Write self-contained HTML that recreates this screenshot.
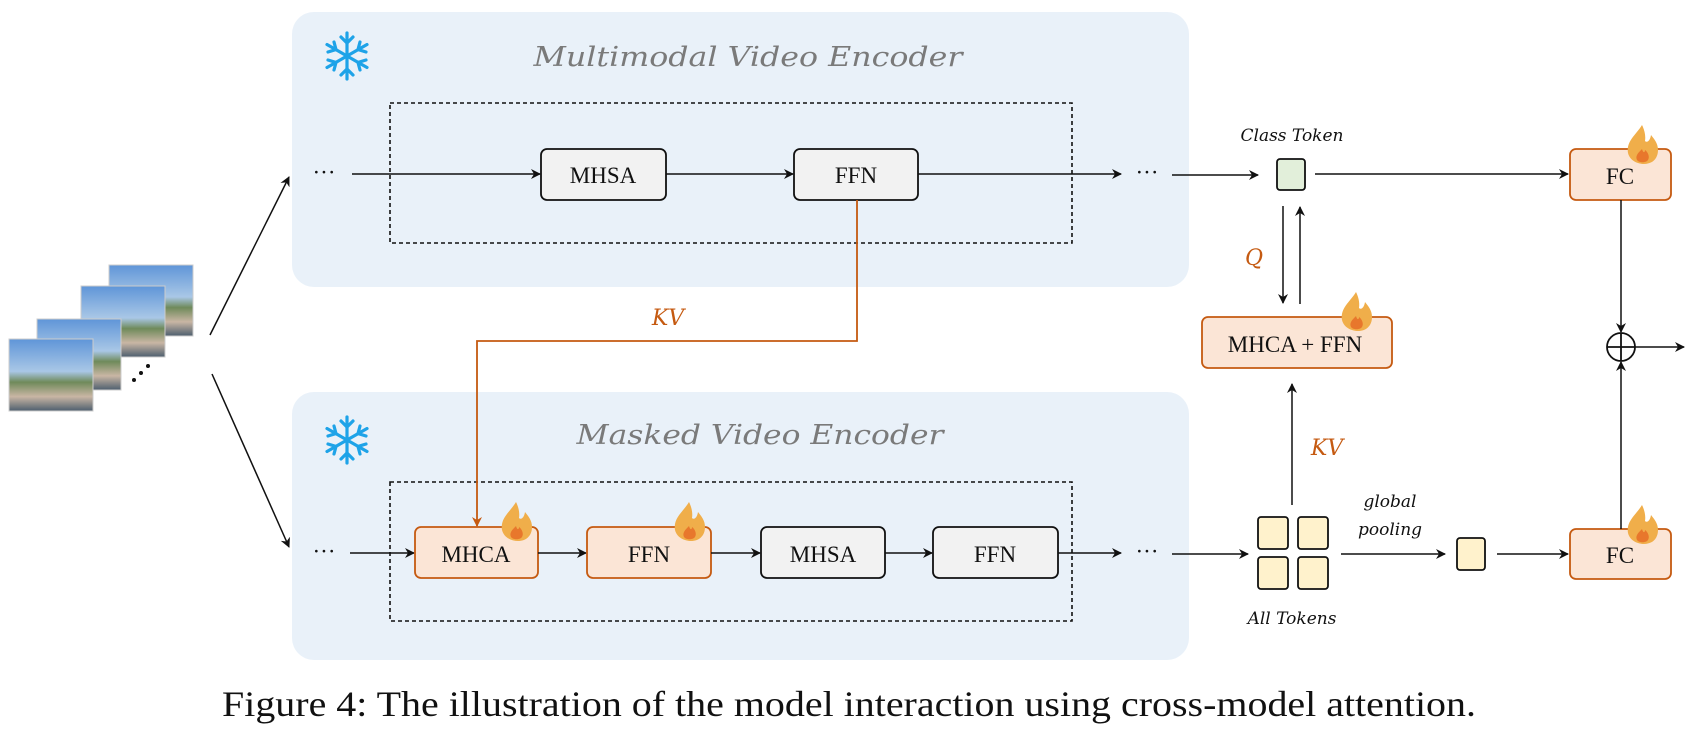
<!DOCTYPE html>
<html><head><meta charset="utf-8"><style>
html,body{margin:0;padding:0;background:#fff;}
svg{display:block;}
.b{font-family:"Liberation Serif",serif;font-size:23px;fill:#111;text-anchor:middle;}
.t{font-family:"DejaVu Serif",serif;font-style:italic;font-size:27px;fill:#7a7a7a;text-anchor:middle;}
.s{font-family:"DejaVu Serif",serif;font-style:italic;font-size:17px;fill:#111;text-anchor:middle;}
.o{font-family:"DejaVu Serif",serif;font-style:italic;font-size:22px;fill:#c55a11;text-anchor:middle;}
</style></head><body>
<svg width="1689" height="744" viewBox="0 0 1689 744" xmlns="http://www.w3.org/2000/svg">
<defs>
<marker id="a" markerWidth="10" markerHeight="10" refX="9" refY="5" orient="auto" markerUnits="userSpaceOnUse"><path d="M0,0 L10,5 L0,10 L3,5 z" fill="#111"/></marker>
<marker id="ao" markerWidth="10" markerHeight="10" refX="9" refY="5" orient="auto" markerUnits="userSpaceOnUse"><path d="M0,0 L10,5 L0,10 L3,5 z" fill="#c55a11"/></marker>
<g id="fl"><path d="M0,-22 C-6,-12 -16,-6 -14,6 C-12,14 -4,17 2,17 C10,17 16,12 16,3 C16,-4 12,-8 9,-12 C8,-6 5,-4 3,-6 C4,-12 2,-18 0,-22 Z" fill="#f0ae4a"/><path d="M0,2 C-4,6 -7,9 -5,13 C-3,16 4,16 6,13 C8,10 6,5 3,3 C3,6 1,6 0,2 Z" fill="#e8772c"/></g>
<g id="sf" stroke="#1ea3e8" stroke-width="3.2" fill="none" stroke-linecap="round">
<line x1="0" y1="-23" x2="0" y2="23"/><line x1="-20" y1="-11.5" x2="20" y2="11.5"/><line x1="-20" y1="11.5" x2="20" y2="-11.5"/>
<path d="M-6,-19 L0,-13 L6,-19 M-6,19 L0,13 L6,19 M-19,-4 L-11,-6.5 L-13,-14 M19,4 L11,6.5 L13,14 M-19,4 L-11,6.5 L-13,14 M19,-4 L11,-6.5 L13,-14"/>
</g>
<linearGradient id="ph" x1="0" y1="0" x2="0" y2="1"><stop offset="0" stop-color="#5f95d8"/><stop offset="0.45" stop-color="#a9c7e6"/><stop offset="0.6" stop-color="#6f8a5a"/><stop offset="0.8" stop-color="#c9b6a4"/><stop offset="1" stop-color="#4d5e6e"/></linearGradient>
</defs>

<rect x="292" y="12" width="897" height="275" rx="22" fill="#e9f1f9"/>
<rect x="292" y="392" width="897" height="268" rx="22" fill="#e9f1f9"/>
<use href="#sf" x="347" y="56"/>
<use href="#sf" x="347" y="440"/>
<text class="t" x="748" y="66" textLength="429" lengthAdjust="spacingAndGlyphs">Multimodal Video Encoder</text>
<text class="t" x="760" y="444" textLength="367" lengthAdjust="spacingAndGlyphs">Masked Video Encoder</text>
<rect x="390" y="103" width="682" height="140" fill="none" stroke="#111" stroke-width="1.6" stroke-dasharray="4,3"/>
<rect x="390" y="482" width="682" height="139" fill="none" stroke="#111" stroke-width="1.6" stroke-dasharray="4,3"/>

<g stroke="#ccc" stroke-width="1">
<rect x="109" y="265" width="84" height="71" fill="url(#ph)"/>
<rect x="81" y="286" width="84" height="71" fill="url(#ph)"/>
<rect x="37" y="319" width="84" height="71" fill="url(#ph)"/>
<rect x="9" y="339" width="84" height="72" fill="url(#ph)"/>
</g>
<circle cx="134" cy="380" r="2" fill="#111"/><circle cx="141" cy="373" r="2" fill="#111"/><circle cx="148" cy="366" r="2" fill="#111"/>
<line x1="210" y1="335" x2="289" y2="177" stroke="#111" stroke-width="1.5" marker-end="url(#a)"/>
<line x1="212" y1="374" x2="289" y2="547" stroke="#111" stroke-width="1.5" marker-end="url(#a)"/>

<text x="324" y="180" class="b">···</text>
<line x1="352" y1="174" x2="540" y2="174" stroke="#111" stroke-width="1.5" marker-end="url(#a)"/>
<rect x="541" y="149" width="125" height="51" rx="6" fill="#f2f2f2" stroke="#111" stroke-width="1.8"/>
<text class="b" x="603" y="183">MHSA</text>
<line x1="666" y1="174" x2="793" y2="174" stroke="#111" stroke-width="1.5" marker-end="url(#a)"/>
<rect x="794" y="149" width="124" height="51" rx="6" fill="#f2f2f2" stroke="#111" stroke-width="1.8"/>
<text class="b" x="856" y="183">FFN</text>
<line x1="918" y1="174" x2="1121" y2="174" stroke="#111" stroke-width="1.5" marker-end="url(#a)"/>
<text x="1147" y="180" class="b">···</text>
<line x1="1172" y1="175" x2="1258" y2="175" stroke="#111" stroke-width="1.5" marker-end="url(#a)"/>
<text class="s" x="1292" y="141">Class Token</text>
<rect x="1277" y="159" width="28" height="31" rx="3" fill="#e2efda" stroke="#111" stroke-width="1.8"/>
<line x1="1315" y1="174" x2="1568" y2="174" stroke="#111" stroke-width="1.5" marker-end="url(#a)"/>
<rect x="1570" y="149" width="101" height="51" rx="6" fill="#fbe5d6" stroke="#c55a11" stroke-width="1.8"/>
<text class="b" x="1620" y="184">FC</text>
<use href="#fl" x="1642" y="147"/>

<line x1="1283" y1="206" x2="1283" y2="303" stroke="#111" stroke-width="1.5" marker-end="url(#a)"/>
<line x1="1300" y1="304" x2="1300" y2="207" stroke="#111" stroke-width="1.5" marker-end="url(#a)"/>
<text class="o" x="1254" y="265">Q</text>
<rect x="1202" y="317" width="190" height="51" rx="6" fill="#fbe5d6" stroke="#c55a11" stroke-width="1.8"/>
<text class="b" x="1295" y="352">MHCA + FFN</text>
<use href="#fl" x="1356" y="314"/>
<line x1="1292" y1="505" x2="1292" y2="384" stroke="#111" stroke-width="1.5" marker-end="url(#a)"/>
<text class="o" x="1327" y="455">KV</text>

<path d="M857,200 V341 H477 V526" fill="none" stroke="#c55a11" stroke-width="1.8" marker-end="url(#ao)"/>
<text class="o" x="668" y="325">KV</text>

<text x="324" y="559" class="b">···</text>
<line x1="350" y1="553" x2="414" y2="553" stroke="#111" stroke-width="1.5" marker-end="url(#a)"/>
<rect x="415" y="527" width="123" height="51" rx="6" fill="#fbe5d6" stroke="#c55a11" stroke-width="1.8"/>
<text class="b" x="476" y="562">MHCA</text>
<use href="#fl" x="516" y="524"/>
<line x1="538" y1="553" x2="586" y2="553" stroke="#111" stroke-width="1.5" marker-end="url(#a)"/>
<rect x="587" y="527" width="124" height="51" rx="6" fill="#fbe5d6" stroke="#c55a11" stroke-width="1.8"/>
<text class="b" x="649" y="562">FFN</text>
<use href="#fl" x="689" y="524"/>
<line x1="711" y1="553" x2="760" y2="553" stroke="#111" stroke-width="1.5" marker-end="url(#a)"/>
<rect x="761" y="527" width="124" height="51" rx="6" fill="#f2f2f2" stroke="#111" stroke-width="1.8"/>
<text class="b" x="823" y="562">MHSA</text>
<line x1="885" y1="553" x2="932" y2="553" stroke="#111" stroke-width="1.5" marker-end="url(#a)"/>
<rect x="933" y="527" width="125" height="51" rx="6" fill="#f2f2f2" stroke="#111" stroke-width="1.8"/>
<text class="b" x="995" y="562">FFN</text>
<line x1="1058" y1="553" x2="1121" y2="553" stroke="#111" stroke-width="1.5" marker-end="url(#a)"/>
<text x="1147" y="559" class="b">···</text>
<line x1="1172" y1="554" x2="1248" y2="554" stroke="#111" stroke-width="1.5" marker-end="url(#a)"/>
<g fill="#fff2cc" stroke="#111" stroke-width="1.8">
<rect x="1258" y="517" width="30" height="32" rx="3"/><rect x="1298" y="517" width="30" height="32" rx="3"/>
<rect x="1258" y="557" width="30" height="32" rx="3"/><rect x="1298" y="557" width="30" height="32" rx="3"/>
</g>
<text class="s" x="1292" y="624">All Tokens</text>
<text class="s" x="1390" y="507">global</text>
<text class="s" x="1390" y="535">pooling</text>
<line x1="1341" y1="554" x2="1445" y2="554" stroke="#111" stroke-width="1.5" marker-end="url(#a)"/>
<rect x="1457" y="538" width="28" height="32" rx="3" fill="#fff2cc" stroke="#111" stroke-width="1.8"/>
<line x1="1497" y1="554" x2="1568" y2="554" stroke="#111" stroke-width="1.5" marker-end="url(#a)"/>
<rect x="1570" y="529" width="101" height="50" rx="6" fill="#fbe5d6" stroke="#c55a11" stroke-width="1.8"/>
<text class="b" x="1620" y="563">FC</text>
<use href="#fl" x="1642" y="527"/>

<line x1="1621" y1="200" x2="1621" y2="332" stroke="#111" stroke-width="1.5" marker-end="url(#a)"/>
<line x1="1621" y1="529" x2="1621" y2="362" stroke="#111" stroke-width="1.5" marker-end="url(#a)"/>
<circle cx="1621" cy="347" r="14" fill="#fff" stroke="#111" stroke-width="1.8"/>
<line x1="1607" y1="347" x2="1635" y2="347" stroke="#111" stroke-width="1.8"/>
<line x1="1621" y1="333" x2="1621" y2="361" stroke="#111" stroke-width="1.8"/>
<line x1="1635" y1="347" x2="1684" y2="347" stroke="#111" stroke-width="1.5" marker-end="url(#a)"/>

<text x="222" y="716" textLength="1254" lengthAdjust="spacingAndGlyphs" style="font-family:'Liberation Serif',serif;font-size:36px;fill:#111">Figure 4: The illustration of the model interaction using cross-model attention.</text>
</svg>
</body></html>
